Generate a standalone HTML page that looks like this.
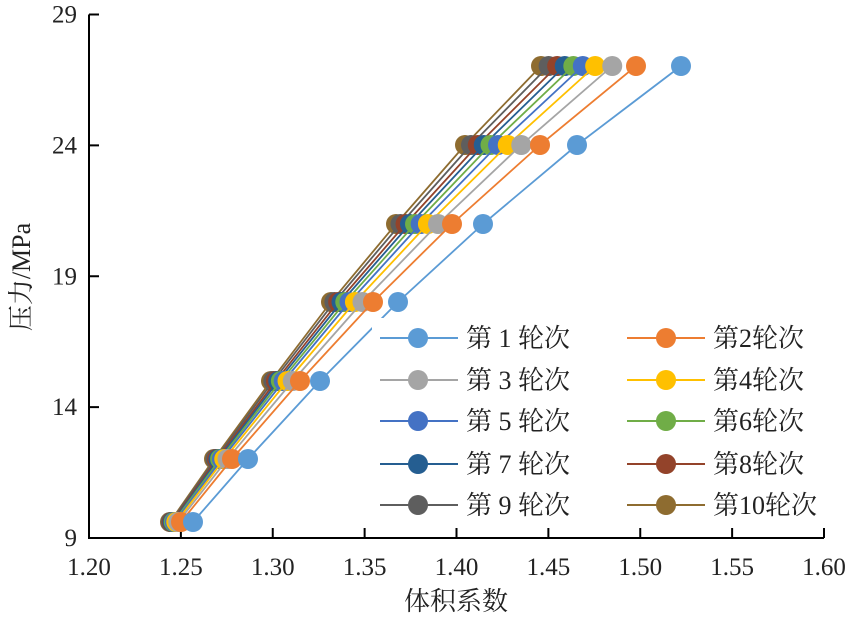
<!DOCTYPE html>
<html><head><meta charset="utf-8"><style>
body{margin:0;background:#fff}
</style></head><body>
<svg id="s" width="851" height="621" xmlns="http://www.w3.org/2000/svg" font-family="'Liberation Serif','Noto Serif CJK SC','DejaVu Serif',serif" fill="#222"></svg>
<script>
const s=document.getElementById('s');
let h='';
const FF=`font-family="'Liberation Serif','Noto Serif CJK SC','DejaVu Serif',serif" fill="#222"`;
const X=v=>89+(v-1.2)/0.4*735, Y=v=>538-(v-9)/20*523.5;
h+='<line x1="89" y1="14.5" x2="89" y2="539" stroke="#000" stroke-width="2"/>';
h+='<line x1="88" y1="538" x2="824" y2="538" stroke="#000" stroke-width="2"/>';
[9,14,19,24,29].forEach(v=>{const y=Y(v);h+=`<line x1="89" y1="${y}" x2="99" y2="${y}" stroke="#000" stroke-width="2"/><text ${FF} x="77" y="${y+8}" font-size="25" text-anchor="end">${v}</text>`;});
for(let i=0;i<=8;i++){const v=1.2+i*0.05,x=X(v);h+=`<line x1="${x}" y1="528" x2="${x}" y2="538" stroke="#000" stroke-width="2"/><text ${FF} x="${x}" y="575" font-size="25" text-anchor="middle">${v.toFixed(2)}</text>`;}
h+=`<text ${FF} x="456" y="610" font-size="26" text-anchor="middle">体积系数</text>`;
h+=`<text ${FF} transform="translate(30,277) rotate(-90)" font-size="26" text-anchor="middle">压力/MPa</text>`;
const ys=[522,459,381,302,224,145,66];
const s1=[193,248,320,398,483,577,681];
const s2=[181,232,300,373,452,540,636];
const s10=[170,214,271,331,396,465,541];
const f=[0,0.25,0.43,0.56,0.66,0.75,0.83,0.92,1];
const cols=['#5B9BD5','#ED7D31','#A5A5A5','#FFC000','#4472C4','#70AD47','#255E91','#93432A','#5E5E5E','#8E6C30'];
const series=[s1];
for(let k=0;k<9;k++)series.push(s2.map((a,i)=>a+(s10[i]-a)*f[k]));
for(let k=9;k>=0;k--){const xs=series[k];
h+=`<polyline fill="none" stroke="${cols[k]}" stroke-width="1.8" points="${xs.map((x,i)=>x+','+ys[i]).join(' ')}"/>`;
xs.forEach((x,i)=>h+=`<circle cx="${x}" cy="${ys[i]}" r="10" fill="${cols[k]}"/>`);}
h+='<rect x="372" y="318" width="460" height="208" fill="#fff"/>';
const rows=[338,380,421,464,505];
for(let k=0;k<10;k++){const r=rows[Math.floor(k/2)],c=k%2;const lx=c?627:380,mx=c?666:418,tx=c?713:466;
h+=`<line x1="${lx}" y1="${r}" x2="${lx+78}" y2="${r}" stroke="${cols[k]}" stroke-width="2"/><circle cx="${mx}" cy="${r}" r="10" fill="${cols[k]}"/><text ${FF} x="${tx}" y="${r+9}" font-size="26">第${k<9&&c==0?' ':''}${k+1}${k<9&&c==0?' ':''}轮次</text>`;}
s.innerHTML=h;
</script>
</body></html>
